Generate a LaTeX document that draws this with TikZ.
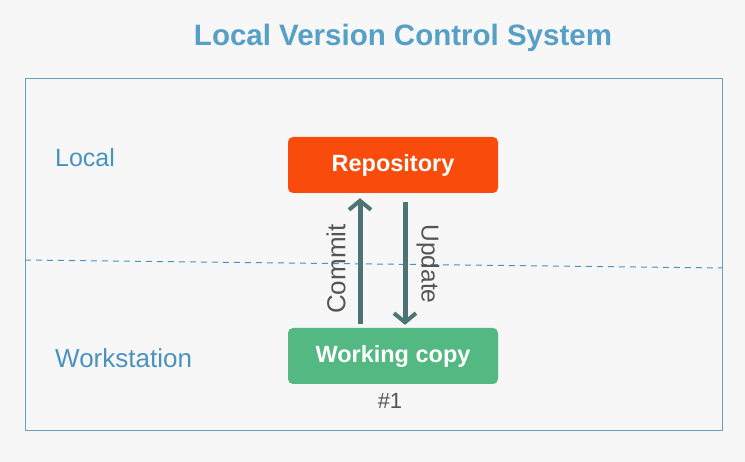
\documentclass[tikz,border=0pt]{standalone}
\usepackage{fontspec}
\setmainfont{Liberation Sans}
\usetikzlibrary{arrows.meta}
\definecolor{bgc}{HTML}{F7F7F7}
\definecolor{titlec}{HTML}{569FC6}
\definecolor{framec}{HTML}{6A9FBC}
\definecolor{labelc}{HTML}{4A93BD}
\definecolor{repoc}{HTML}{F94C0C}
\definecolor{workc}{HTML}{53B882}
\definecolor{arrowc}{HTML}{4C7472}
\definecolor{textc}{HTML}{555555}
\tikzset{
  boxstyle/.style={rounded corners=5pt, minimum width=210pt, minimum height=56pt, text=white, font=\fontsize{23.5}{26}\selectfont\bfseries, inner sep=0pt},
  arrowstyle/.style={draw=arrowc, line width=5pt, -{Straight Barb[length=9pt,width=22pt,line width=4pt]}},
  sidelabel/.style={text=labelc, font=\fontsize{25}{28}\selectfont, anchor=west, inner sep=0pt},
  arrowlabel/.style={text=textc, inner sep=0pt}
}
\begin{document}
\begin{tikzpicture}[x=1pt,y=-1pt]
\fill[bgc] (0,0) rectangle (745,462);
\useasboundingbox (0,0) rectangle (745,462);
\node[text=titlec, font=\fontsize{29.5}{34}\selectfont\bfseries, inner sep=0pt] (title) at (403,38) {Local Version Control System};
\draw[framec, line width=1pt] (25,79) rectangle (722,431);
\coordinate (dl) at (25,260);
\coordinate (dr) at (722,268);
\draw[labelc, line width=1pt, dash pattern=on 6pt off 5pt] (dl) -- (dr);
\node[sidelabel] (local) at (55,158) {Local};
\node[sidelabel, font=\fontsize{26}{28}\selectfont] (ws) at (55,358) {Workstation};
\node[boxstyle, fill=repoc] (repo) at (393,165) {Repository};
\node[boxstyle, fill=workc] (work) at (393,356) {Working copy};
\node[text=textc, font=\fontsize{22}{24}\selectfont, inner sep=0pt] (num) at (390,401) {\#1};
\draw[arrowstyle] ([xshift=-33pt,yshift=4pt]work.north) -- ([xshift=-33pt,yshift=-5pt]repo.south);
\draw[arrowstyle] ([xshift=12pt,yshift=-9pt]repo.south) -- ([xshift=12pt,yshift=3pt]work.north);
\node[arrowlabel, rotate=90, font=\fontsize{26}{28}\selectfont] (commit) at (336,269) {Commit};
\node[arrowlabel, rotate=-90, font=\fontsize{24.5}{28}\selectfont] (update) at (428,264) {Update};
\end{tikzpicture}
\end{document}
